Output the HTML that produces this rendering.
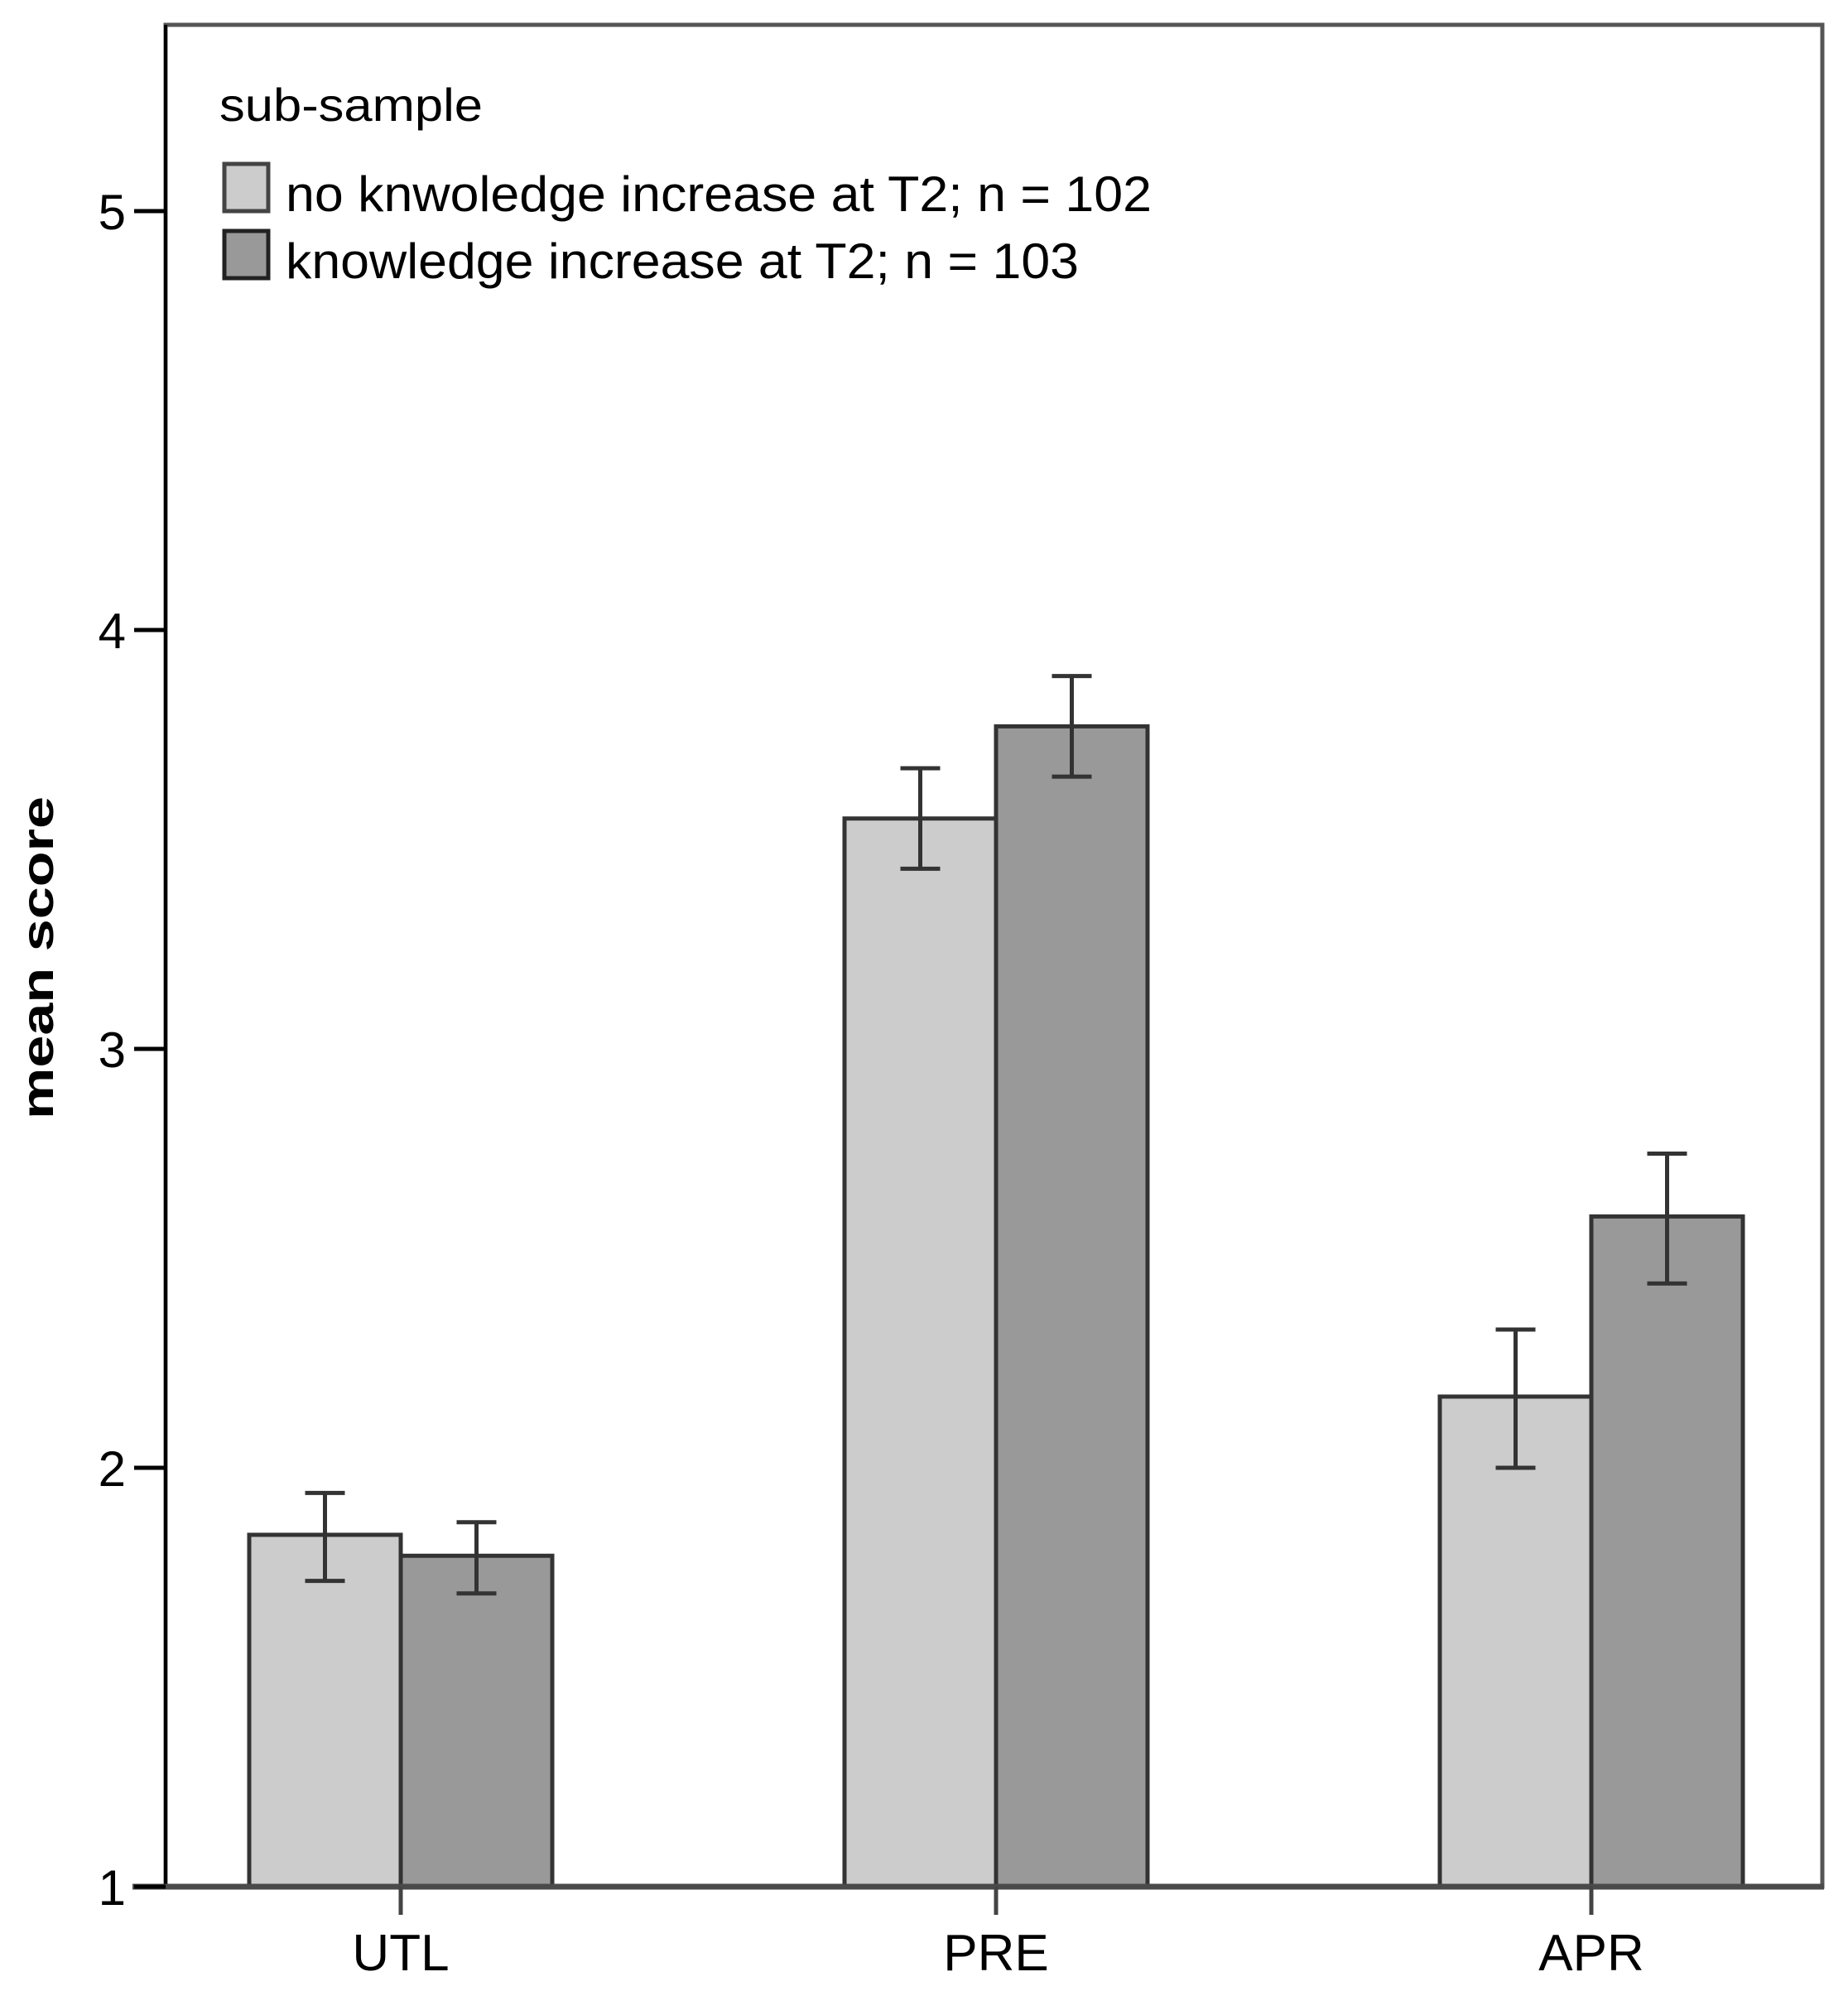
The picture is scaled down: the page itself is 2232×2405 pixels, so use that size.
<!DOCTYPE html>
<html><head><meta charset="utf-8"><style>
html,body{margin:0;padding:0;background:#fff}
svg{display:block}
text{font-family:"Liberation Sans",Arial,sans-serif;fill:#000}
</style></head><body>
<svg id="chart" width="2232" height="2405" viewBox="0 0 2232 2405" xmlns="http://www.w3.org/2000/svg">
<rect x="200" y="30" width="2001" height="2249" fill="#fff" stroke="#555" stroke-width="5"/>
<line x1="200" y1="30" x2="200" y2="2279" stroke="#000" stroke-width="4"/>
<g id="bars"></g>
<line x1="160" y1="2279" x2="2203" y2="2279" stroke="#4a4a4a" stroke-width="7"/>
<g id="axes"></g>
<text transform="translate(64,1157) rotate(-90)" text-anchor="middle" font-size="54" font-weight="bold" textLength="390" lengthAdjust="spacingAndGlyphs">mean score</text>
<g>
<text x="265" y="146" font-size="56" textLength="318" lengthAdjust="spacingAndGlyphs">sub-sample</text>
<rect x="271" y="198" width="53" height="57" fill="#cccccc" stroke="#444" stroke-width="5"/>
<text x="345" y="255" font-size="60" textLength="1046" lengthAdjust="spacingAndGlyphs">no knwoledge increase at T2; n = 102</text>
<rect x="271" y="279" width="53" height="57" fill="#999999" stroke="#222" stroke-width="5"/>
<text x="345" y="336" font-size="60" textLength="958" lengthAdjust="spacingAndGlyphs">knowledge increase at T2; n = 103</text>
</g>
</svg>
<script>
const categories = ["UTL", "PRE", "APR"];
const seriesNoIncrease = [1.84, 3.55, 2.17];
const seriesNoIncreaseHigh = [1.94, 3.67, 2.33];
const seriesNoIncreaseLow = [1.73, 3.43, 2.00];
const seriesIncrease = [1.79, 3.77, 2.60];
const seriesIncreaseHigh = [1.87, 3.89, 2.75];
const seriesIncreaseLow = [1.70, 3.65, 2.44];
const yTicks = [1, 2, 3, 4, 5];

const NS = "http://www.w3.org/2000/svg";
const y0 = 2279, pxPerUnit = 506;
function yScale(v){ return y0 - (v - 1) * pxPerUnit; }
const catStart = 484, catStep = 719;
function xScale(i){ return catStart + i * catStep; }
const barW = 183;
function mk(tag, attrs, parent){ const e = document.createElementNS(NS, tag); for (const k in attrs) e.setAttribute(k, attrs[k]); parent.appendChild(e); return e; }
const bars = document.getElementById('bars');
const axes = document.getElementById('axes');
const series = [
  {vals: seriesNoIncrease, hi: seriesNoIncreaseHigh, lo: seriesNoIncreaseLow, fill: "#cccccc", off: -1, key: "no-increase"},
  {vals: seriesIncrease, hi: seriesIncreaseHigh, lo: seriesIncreaseLow, fill: "#999999", off: 0, key: "increase"}
];
series.forEach(s => {
  categories.forEach((c, i) => {
    const x = xScale(i) + s.off * barW;
    const r = mk('rect', {x: x, y: yScale(s.vals[i]), width: barW, height: y0 - yScale(s.vals[i]), fill: s.fill, stroke: "#333", "stroke-width": 5}, bars);
    
    
    const cx = x + barW / 2;
    const g = mk('g', {stroke: "#333", "stroke-width": 5}, bars);
    
    
    mk('line', {x1: cx, x2: cx, y1: yScale(s.hi[i]), y2: yScale(s.lo[i])}, g);
    mk('line', {x1: cx - 24, x2: cx + 24, y1: yScale(s.hi[i]), y2: yScale(s.hi[i])}, g);
    mk('line', {x1: cx - 24, x2: cx + 24, y1: yScale(s.lo[i]), y2: yScale(s.lo[i])}, g);
  });
});
yTicks.forEach(t => {
  const y = yScale(t);
  const l = mk('line', {x1: 162, x2: 200, y1: y, y2: y, stroke: "#000", "stroke-width": 5}, axes);
  
  
  const tx = mk('text', {x: 152, y: y + 22, "text-anchor": "end", "font-size": 60}, axes);
  
  
  tx.textContent = t;
});
categories.forEach((c, i) => {
  const x = xScale(i);
  const l = mk('line', {x1: x, x2: x, y1: 2279, y2: 2313, stroke: "#444", "stroke-width": 5}, axes);
  
  
  const tx = mk('text', {x: x, y: 2380, "text-anchor": "middle", "font-size": 62}, axes);
  
  
  tx.textContent = c;
});
</script>
</body></html>
